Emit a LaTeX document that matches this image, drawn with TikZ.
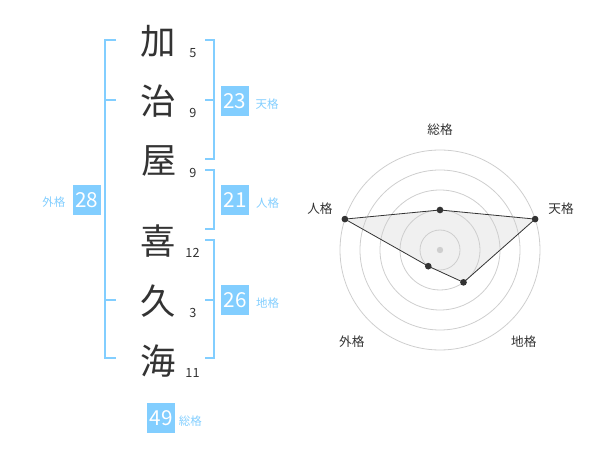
\documentclass[tikz,border=0pt]{standalone}
\usepackage{fontspec}
\setmainfont{Noto Sans CJK JP}
\usepackage{xcolor}
\usetikzlibrary{positioning}
\definecolor{kakublue}{RGB}{130,206,255}
\definecolor{inkgray}{RGB}{51,51,51}
\definecolor{ringgray}{RGB}{206,206,206}

\begin{document}
\begin{tikzpicture}[
    x=0.75pt, y=-0.75pt,
    kanji/.style={font=\fontsize{26.5}{26.5}\selectfont, text=inkgray, inner sep=0pt},
    strokes/.style={font=\fontsize{9.5}{9.5}\selectfont, text=inkgray, inner sep=0pt},
    kaku/.style={fill=kakublue, text=white, minimum width=21pt, minimum height=22pt,
                 inner sep=0pt, font=\fontsize{15.5}{15.5}\selectfont},
    kakulbl/.style={text=kakublue, font=\fontsize{8.6}{8.6}\selectfont, inner sep=0pt},
    bracket/.style={draw=kakublue, line width=1.5pt},
    axislbl/.style={text=inkgray, font=\fontsize{9.5}{9.5}\selectfont, inner sep=0pt},
    ring/.style={draw=ringgray, line width=0.6pt},
    dot/.style={circle, fill=inkgray, inner sep=0pt, minimum size=5pt},
]
  \useasboundingbox (0,0) rectangle (600,470);

  \node[kanji] (ka)  at (158,41)  {加};
  \node[kanji] (ji)  at (158,101) {治};
  \node[kanji] (ya)  at (159,161) {屋};
  \node[kanji] (ki)  at (158,241) {喜};
  \node[kanji] (ku)  at (158,301) {久};
  \node[kanji] (mi)  at (158,361) {海};

  \node[strokes] (ka-n) at (193,53)    {5};
  \node[strokes] (ji-n) at (193,113)   {9};
  \node[strokes] (ya-n) at (193,173)   {9};
  \node[strokes] (ki-n) at (192.5,253) {12};
  \node[strokes] (ku-n) at (193,313)   {3};
  \node[strokes] (mi-n) at (192.5,373) {11};

  \draw[bracket] (116,40) -- (105,40) -- (105,358) -- (116,358);
  \draw[bracket] (105,100) -- (116,100);
  \draw[bracket] (105,300) -- (116,300);
  \draw[bracket] (205,40) -- (214,40) -- (214,159) -- (205,159);
  \draw[bracket] (214,100) -- (205,100);
  \draw[bracket] (205,170) -- (214,170) -- (214,229) -- (205,229);
  \draw[bracket] (205,240) -- (214,240) -- (214,358) -- (205,358);
  \draw[bracket] (214,300) -- (205,300);

  \node[kaku] (gai) at (86.5,200) {28};
  \node[kakulbl, left=5pt of gai, yshift=-1.5pt] (gai-l) {外格};
  \node[kaku] (ten) at (234.5,101) {23};
  \node[kakulbl, right=5pt of ten, yshift=-2pt] (ten-l) {天格};
  \node[kaku] (jin) at (235,200) {21};
  \node[kakulbl, right=5pt of jin, yshift=-2pt] (jin-l) {人格};
  \node[kaku] (chi) at (235,300) {26};
  \node[kakulbl, right=5pt of chi, yshift=-2pt] (chi-l) {地格};
  \node[kaku] (sou) at (161,418) {49};
  \node[kakulbl, right=2.5pt of sou, yshift=-2pt] (sou-l) {総格};

  \begin{scope}[shift={(440,250)}, y=0.75pt]
    \coordinate (r-sou) at (90:40);
    \coordinate (r-ten) at (18:100);
    \coordinate (r-chi) at (-54:40);
    \coordinate (r-gai) at (-126:20);
    \coordinate (r-jin) at (162:100);
    \fill[black!6] (r-sou) -- (r-ten) -- (r-chi) -- (r-gai) -- (r-jin) -- cycle;
    \foreach \r in {20,40,...,100}
      \draw[ring] (0,0) circle[radius=\r];
    \fill[ringgray] (0,0) circle[radius=3.2];
    \draw[inkgray, line width=0.6pt] (r-sou) -- (r-ten) -- (r-chi) -- (r-gai) -- (r-jin) -- cycle;
    \foreach \p in {sou,ten,chi,gai,jin}
      \node[dot] (d-\p) at (r-\p) {};
    \node[axislbl] (a-sou) at (90:120)    {総格};
    \node[axislbl] (a-ten) at (19:128)    {天格};
    \node[axislbl] (a-chi) at (-47.5:124) {地格};
    \node[axislbl] (a-gai) at (-134:127)  {外格};
    \node[axislbl] (a-jin) at (161:127)   {人格};
  \end{scope}
\end{tikzpicture}
\end{document}
